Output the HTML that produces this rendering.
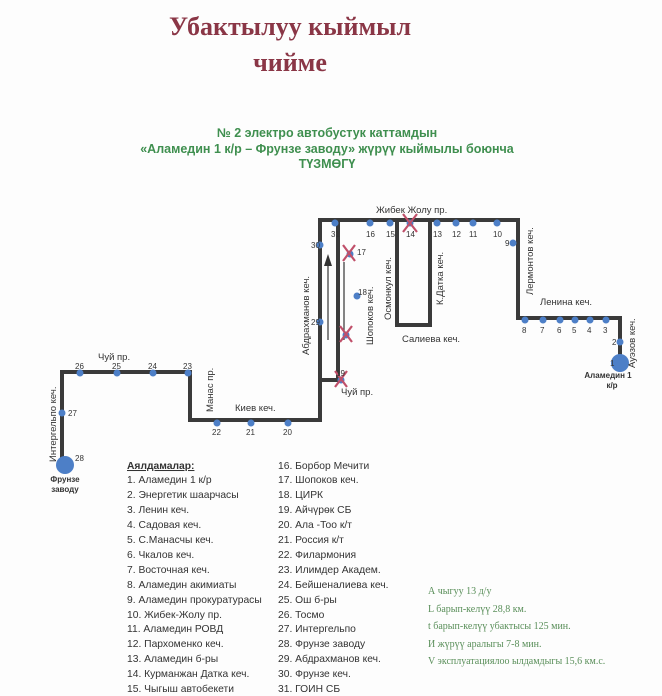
<!DOCTYPE html>
<html><head><meta charset="utf-8"><style>
body{margin:0;background:#fff}
svg{display:block}
.t{font-family:"Liberation Sans",sans-serif;fill:#333}
</style></head><body>
<svg width="662" height="696" viewBox="0 0 662 696" xmlns="http://www.w3.org/2000/svg">
<rect width="662" height="696" fill="#fdfdfd"/>
<g font-family="Liberation Serif,serif" font-weight="bold" fill="#8a3646" font-size="26" text-anchor="middle">
<text x="290" y="35">Убактылуу кыймыл</text>
<text x="290" y="71">чийме</text>
</g>
<g font-family="Liberation Sans,sans-serif" font-weight="bold" fill="#3f8f4f" font-size="12.5" text-anchor="middle">
<text x="327" y="137">№ 2 электро автобустук каттамдын</text>
<text x="327" y="153">«Аламедин 1 к/р – Фрунзе заводу» жүрүү кыймылы боюнча</text>
<text x="327" y="168">ТҮЗМӨГҮ</text>
</g>
<g fill="none" stroke="#3a3a3a" stroke-width="4" stroke-linejoin="miter">
<polyline points="62,465 62,372 190,372 190,420 320,420 320,220 518,220 518,318 620,318 620,362"/>
<polyline points="320,380 338,380 338,220"/>
<polyline points="397,220 397,325 430,325 430,220"/>
</g>
<g stroke="#333" stroke-width="1.2">
<line x1="328" y1="340" x2="328" y2="262"/>
<line x1="344" y1="262" x2="344" y2="340"/>
</g>
<polygon points="328,254 324,266 332,266" fill="#333"/>
<g fill="#4d7fc7">
<circle cx="65" cy="465" r="9"/><circle cx="620" cy="363" r="9"/>
<circle cx="80" cy="373" r="3.5"/><circle cx="117" cy="373" r="3.5"/><circle cx="153" cy="373" r="3.5"/><circle cx="188" cy="373" r="3.5"/>
<circle cx="217" cy="423" r="3.5"/><circle cx="251" cy="423" r="3.5"/><circle cx="288" cy="423" r="3.5"/>
<circle cx="62" cy="413" r="3.5"/><circle cx="320" cy="245" r="3.5"/><circle cx="320" cy="322" r="3.5"/>
<circle cx="335" cy="223" r="3.5"/><circle cx="370" cy="223" r="3.5"/><circle cx="390" cy="223" r="3.5"/><circle cx="410" cy="223" r="3.5"/>
<circle cx="437" cy="223" r="3.5"/><circle cx="456" cy="223" r="3.5"/><circle cx="473" cy="223" r="3.5"/><circle cx="497" cy="223" r="3.5"/>
<circle cx="513" cy="243" r="3.5"/>
<circle cx="525" cy="320" r="3.5"/><circle cx="543" cy="320" r="3.5"/><circle cx="560" cy="320" r="3.5"/><circle cx="575" cy="320" r="3.5"/><circle cx="590" cy="320" r="3.5"/><circle cx="606" cy="320" r="3.5"/>
<circle cx="620" cy="342" r="3.5"/><circle cx="357" cy="296" r="3.5"/><circle cx="346" cy="335" r="3.5"/><circle cx="341" cy="380" r="3.5"/><circle cx="350" cy="254" r="3.5"/>
</g>
<g stroke="#c0506a" stroke-width="2.2">
<path d="M343,245 L355,261 M355,245 L343,261"/>
<path d="M340,326 L352,342 M352,326 L340,342"/>
<path d="M335,371 L347,387 M347,371 L335,387"/>
<path d="M403,214 L417,232 M417,214 L403,232"/>
</g>
<g class="t" font-size="8">
<text x="75" y="369">26</text><text x="112" y="369">25</text><text x="148" y="369">24</text><text x="183" y="369">23</text>
<text x="212" y="435">22</text><text x="246" y="435">21</text><text x="283" y="435">20</text>
<text x="68" y="416">27</text><text x="75" y="461">28</text>
<text x="311" y="248">30</text><text x="311" y="325">29</text>
<text x="331" y="237">31</text><text x="366" y="237">16</text><text x="386" y="237">15</text><text x="406" y="237">14</text>
<text x="433" y="237">13</text><text x="452" y="237">12</text><text x="469" y="237">11</text><text x="493" y="237">10</text>
<text x="505" y="246">9</text><text x="357" y="255">17</text><text x="358" y="295">18</text><text x="336" y="376">19</text>
<text x="522" y="333">8</text><text x="540" y="333">7</text><text x="557" y="333">6</text><text x="572" y="333">5</text><text x="587" y="333">4</text><text x="603" y="333">3</text>
<text x="612" y="345">2</text><text x="610" y="366">1</text>
</g>
<g class="t" font-size="9.5">
<text x="376" y="213">Жибек Жолу пр.</text>
<text x="98" y="360">Чуй пр.</text>
<text x="235" y="411">Киев кеч.</text>
<text x="341" y="395">Чуй пр.</text>
<text x="402" y="342">Салиева кеч.</text>
<text x="540" y="305">Ленина кеч.</text>
<g transform="rotate(-90)">
<text x="-462" y="56">Интергельпо кеч.</text>
<text x="-412" y="213">Манас пр.</text>
<text x="-355" y="309">Абдрахманов кеч.</text>
<text x="-345" y="373">Шопоков кеч.</text>
<text x="-320" y="391">Осмонкул кеч.</text>
<text x="-305" y="443">К.Датка кеч.</text>
<text x="-295" y="533">Лермонтов кеч.</text>
<text x="-368" y="635">Ауэзов кеч.</text>
</g>
</g>
<g class="t" font-size="8" font-weight="bold" text-anchor="middle">
<text x="65" y="482">Фрунзе</text><text x="65" y="492">заводу</text>
<text x="608" y="378">Аламедин 1</text><text x="612" y="388">к/р</text>
</g>
<g class="t" font-size="10.3">
<text x="127" y="469" font-weight="bold" text-decoration="underline">Аялдамалар:</text>
<text x="127" y="483">1. Аламедин 1 к/р</text>
<text x="127" y="498">2. Энергетик шаарчасы</text>
<text x="127" y="513">3. Ленин кеч.</text>
<text x="127" y="528">4. Садовая кеч.</text>
<text x="127" y="543">5. С.Манасчы кеч.</text>
<text x="127" y="558">6. Чкалов кеч.</text>
<text x="127" y="573">7. Восточная кеч.</text>
<text x="127" y="588">8. Аламедин акимиаты</text>
<text x="127" y="603">9. Аламедин прокуратурасы</text>
<text x="127" y="618">10. Жибек-Жолу пр.</text>
<text x="127" y="632">11. Аламедин РОВД</text>
<text x="127" y="647">12. Пархоменко кеч.</text>
<text x="127" y="662">13. Аламедин б-ры</text>
<text x="127" y="677">14. Курманжан Датка кеч.</text>
<text x="127" y="692">15. Чыгыш автобекети</text>
<text x="278" y="469">16. Борбор Мечити</text>
<text x="278" y="483">17. Шопоков кеч.</text>
<text x="278" y="498">18. ЦИРК</text>
<text x="278" y="513">19. Айчүрөк СБ</text>
<text x="278" y="528">20. Ала -Тоо к/т</text>
<text x="278" y="543">21. Россия к/т</text>
<text x="278" y="558">22. Филармония</text>
<text x="278" y="573">23. Илимдер Академ.</text>
<text x="278" y="588">24. Бейшеналиева кеч.</text>
<text x="278" y="603">25. Ош б-ры</text>
<text x="278" y="618">26. Тосмо</text>
<text x="278" y="632">27. Интергельпо</text>
<text x="278" y="647">28. Фрунзе заводу</text>
<text x="278" y="662">29. Абдрахманов кеч.</text>
<text x="278" y="677">30. Фрунзе кеч.</text>
<text x="278" y="692">31. ГОИН СБ</text>
</g>
<g font-family="Liberation Serif,serif" font-size="10" fill="#5a8f5a">
<text x="428" y="594">А чыгуу 13 д/у</text>
<text x="428" y="612">L барып-келүү  28,8 км.</text>
<text x="428" y="629">t барып-келүү убактысы  125 мин.</text>
<text x="428" y="647">И жүрүү аралыгы  7-8     мин.</text>
<text x="428" y="664">V эксплуатациялоо ылдамдыгы   15,6   км.с.</text>
</g>
</svg>
</body></html>
